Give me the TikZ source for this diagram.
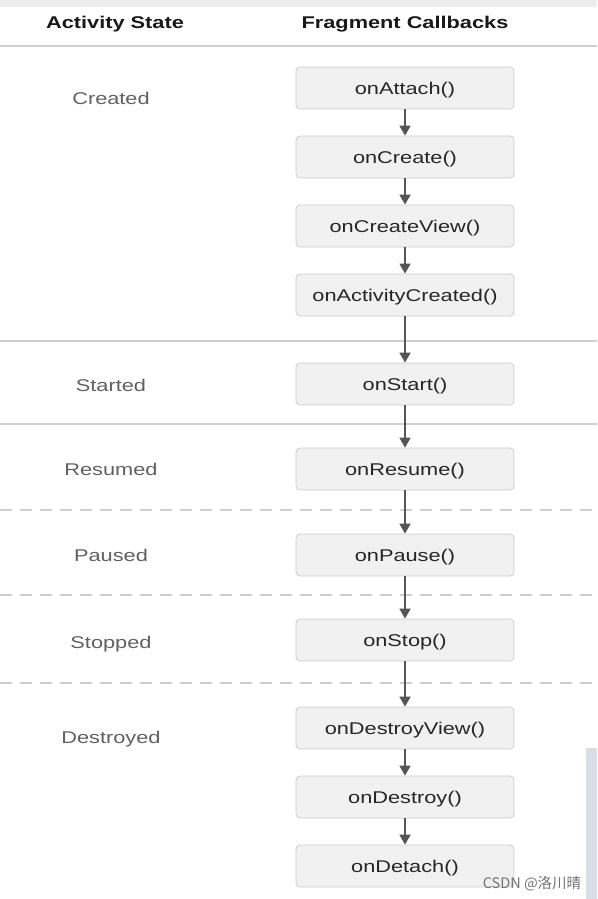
\documentclass[tikz,border=0pt]{standalone}
\usepackage{fontspec}
\setmainfont[FakeStretch=1.28]{Liberation Sans}
\newfontfamily\cjkfont{Noto Sans CJK SC}
\usetikzlibrary{arrows.meta, positioning}
\definecolor{boxfill}{HTML}{F1F1F1}
\definecolor{boxline}{HTML}{CCCCCC}
\definecolor{boxtext}{HTML}{262626}
\definecolor{stategray}{HTML}{606060}
\definecolor{arrowgray}{HTML}{555555}
\definecolor{sepgray}{HTML}{CFCFCF}
\definecolor{topgray}{HTML}{EDEDED}
\definecolor{stripgray}{HTML}{D9DDE4}
\tikzset{
  cb/.style={rectangle, draw=boxline, fill=boxfill, rounded corners=4pt,
             minimum width=218pt, minimum height=42pt, line width=0.8pt,
             text depth=0pt, text=boxtext, font=\fontsize{17}{20}\selectfont},
  hdr/.style={text=black!90, text depth=0pt, font=\fontsize{17}{20}\selectfont\bfseries},
  actstate/.style={text=stategray, text depth=0pt, font=\fontsize{17}{20}\selectfont},
  arr/.style={-{Triangle[length=10pt, width=11pt]}, draw=arrowgray, fill=arrowgray, line width=1.7pt},
  sep/.style={draw=sepgray, line width=1.6pt},
  dsep/.style={draw=sepgray, line width=1.3pt, dash pattern=on 12pt off 8pt},
}
\begin{document}
\begin{tikzpicture}[x=1pt, y=-1pt, node distance=69pt, on grid]
  \useasboundingbox (0,0) rectangle (597,899);
  \fill[topgray] (0,0) rectangle (597,7);
  \fill[stripgray] (586,748) rectangle (597,899);

  % column heads
  \node[hdr] (hstate) at (115,22) {Activity State};
  \node[hdr] (hcalls) at (405,22) {Fragment Callbacks};

  % row borders
  \draw[sep] (0,46) -- (597,46);
  \draw[sep] (0,341) -- (597,341);
  \draw[sep] (0,424) -- (597,424);
  \foreach \y in {510,595,683}
    \draw[dsep] (0,\y) -- (597,\y);

  % callbacks
  \node[cb] (attach)                             at (405,88) {onAttach()};
  \node[cb] (create)     [below=of attach]                   {onCreate()};
  \node[cb] (view)       [below=of create]                   {onCreateView()};
  \node[cb] (actcreated) [below=of view]                     {onActivityCreated()};
  \node[cb] (start)      [below=89pt of actcreated]          {onStart()};
  \node[cb] (resume)     [below=85pt of start]               {onResume()};
  \node[cb] (pause)      [below=86pt of resume]              {onPause()};
  \node[cb] (stop)       [below=85pt of pause]               {onStop()};
  \node[cb] (dview)      [below=88pt of stop]                {onDestroyView()};
  \node[cb] (destroy)    [below=of dview]                    {onDestroy()};
  \node[cb] (detach)     [below=of destroy]                  {onDetach()};

  \foreach \a/\b in {attach/create, create/view, view/actcreated, actcreated/start,
                     start/resume, resume/pause, pause/stop, stop/dview,
                     dview/destroy, destroy/detach}
    \draw[arr] (\a) -- (\b);

  % activity states
  \node[actstate] (created)   at (111,98)  {Created};
  \node[actstate] (started)   at (111,385) {Started};
  \node[actstate] (resumed)   at (111,469) {Resumed};
  \node[actstate] (paused)    at (111,555) {Paused};
  \node[actstate] (stopped)   at (111,642) {Stopped};
  \node[actstate] (destroyed) at (111,737) {Destroyed};

  \node[text=black!55, font=\cjkfont\fontsize{14.5}{16}\selectfont] (mark) at (532,884) {CSDN @洛川晴};
\end{tikzpicture}
\end{document}
